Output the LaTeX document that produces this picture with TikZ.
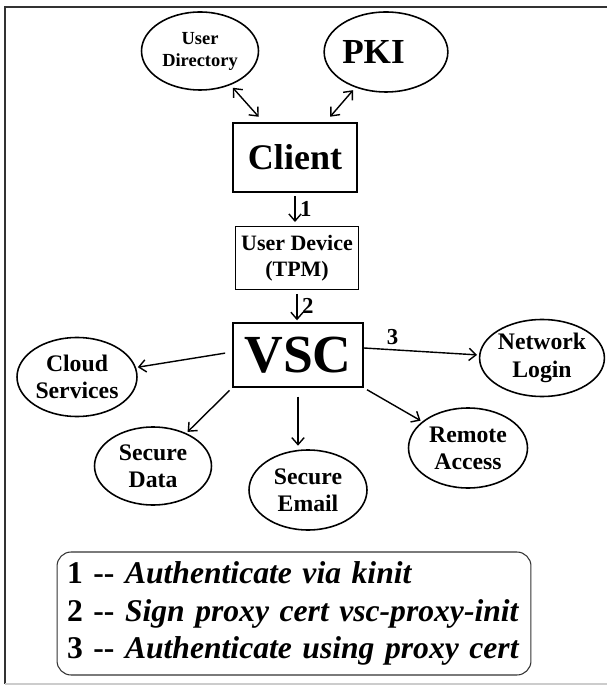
\documentclass[tikz,border=0pt]{standalone}
\usepackage{fontspec}
\setmainfont{Liberation Serif}
\usetikzlibrary{shapes.geometric,arrows.meta,calc,positioning}
\tikzset{
  svc/.style={shape=ellipse,draw,line width=0.9pt,inner sep=0pt,align=center,font=\bfseries\fontsize{13.5}{15.5}\selectfont},
  unit/.style={shape=rectangle,draw,line width=1.1pt,inner sep=0pt,align=center,font=\bfseries},
  link/.style={line width=0.8pt,-{Straight Barb[length=4pt,width=7pt]}},
  biglink/.style={line width=0.8pt,{Straight Barb[length=4pt,width=7pt]}-{Straight Barb[length=4pt,width=7pt]}},
  stepnum/.style={font=\bfseries\fontsize{13}{15}\selectfont,inner sep=2.5pt}
}

\begin{document}
\begin{tikzpicture}[x=0.02cm,y=-0.02cm]
		\useasboundingbox (0,0) rectangle (606,688);
		\draw[line width=1.2pt,black!80] (612,7) -- (5,7) -- (5,684);
		\draw[black!20,line width=0.6pt] (5,684) -- (612,684);
		% top row
		\node(udir) at (200,51) [svc,minimum width=2.34cm,minimum height=1.56cm,font=\bfseries\fontsize{10.5}{12.5}\selectfont] {User\\Directory};
		\node(pki) at (386,52) [svc,minimum width=2.34cm,minimum height=1.6cm,font=\bfseries\fontsize{20}{22}\selectfont] {PKI\hspace*{0.5cm}};
		\node(client) at (295,157.5) [unit,minimum width=2.48cm,minimum height=1.38cm,font=\bfseries\fontsize{20.5}{22}\selectfont] {Client};
		\node(udev) at (297,258) [unit,minimum width=2.46cm,minimum height=1.26cm,font=\bfseries\fontsize{12.5}{15}\selectfont] {User Device\\(TPM)};
		\node(vsc) at (298,355) [unit,minimum width=2.6cm,minimum height=1.28cm,font=\bfseries\fontsize{30.5}{31}\selectfont] {VSC};
		% services
		\node(cloud) at (77,377) [svc,minimum width=2.4cm,minimum height=1.58cm] {Cloud\\Services};
		\node(sdata) at (153,466) [svc,minimum width=2.34cm,minimum height=1.56cm] {Secure\\Data};
		\node(semail) at (308,490) [svc,minimum width=2.36cm,minimum height=1.6cm] {Secure\\Email};
		\node(raccess) at (468,448) [svc,minimum width=2.38cm,minimum height=1.6cm] {Remote\\Access};
		\node(nlogin) at (542,358) [svc,minimum width=2.36cm,minimum height=1.54cm] {Network\\Login};
		% connectors
		\draw[biglink,shorten <=2pt,shorten >=4pt] (udir) -- (client);
		\draw[biglink,shorten <=2pt,shorten >=4pt] (pki) -- (client);
		\draw[link,shorten <=2pt,shorten >=2pt] (client.south) -- node[stepnum,right] {1} (client.south |- udev.north);
		\draw[link,shorten <=2pt,shorten >=1pt] (udev.south) -- node[stepnum,right] {2} (udev.south |- vsc.north);
		\draw[link,shorten <=4pt,shorten >=1pt] ($(vsc.west)+(0,-3)$) -- (cloud);
		\draw[link,shorten <=2pt,shorten >=1pt] (vsc.south west) -- (sdata);
		\draw[link,shorten <=5pt,shorten >=2pt] (vsc.south) -- (vsc.south |- semail.north);
		\draw[link,shorten <=2pt,shorten >=1pt] (vsc.south east) -- (raccess);
		\draw[link,shorten >=1pt] ($(vsc.east)+(0,-7)$) -- node[stepnum,pos=0.25,above] {3} ($(nlogin.west)+(0,-3)$);
		% legend
		\node(legend) at (294,613.5) [draw,rounded corners=8pt,line width=0.6pt,black!80,text=black,text width=9.08cm,inner xsep=0.2cm,minimum height=2.46cm,align=left,font=\bfseries\fontsize{18}{21.5}\selectfont]
			{1 -{}- \textit{Authenticate via kinit}\\
			 2 -{}- \textit{Sign proxy cert vsc-proxy-init}\\
			 3 -{}- \textit{Authenticate using proxy cert}};
	\end{tikzpicture}
\end{document}
